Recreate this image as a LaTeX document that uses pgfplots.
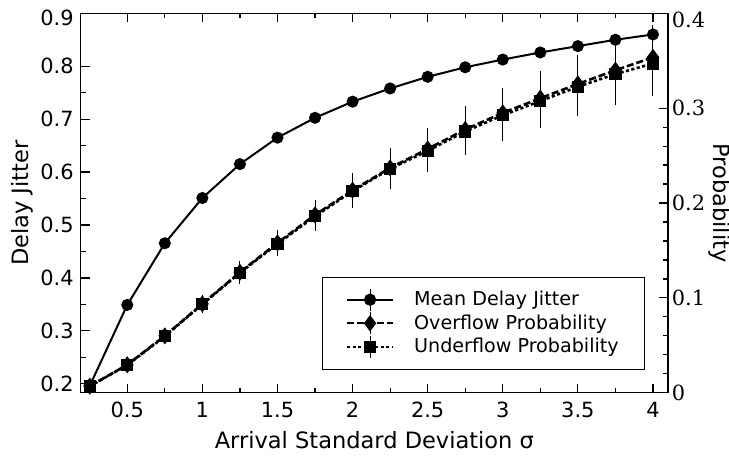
\documentclass[border=0pt]{standalone}
\usepackage{fontspec}
\setmainfont{DejaVu Sans}
\newfontfamily\dvserif{DejaVu Serif}
\usepackage{pgfplots}
\pgfplotsset{compat=1.18}
\begin{document}
\begin{tikzpicture}
\pgfplotsset{
  every axis/.append style={
    width=293.6bp,height=189.7bp,scale only axis,
    xmin=0.19,xmax=4.1,
    tick align=inside,
    major tick length=4.5bp,minor tick length=2.5bp,
    axis line style={line width=0.6bp},
    every tick/.style={black,line width=0.6bp},
    /pgf/number format/assume math mode=true,
    tick label style={font=\fontsize{10.5}{12}\selectfont},
  },
}
\begin{axis}[
  name=ax,
  ymin=0.183,ymax=0.9,
  xtick={0.5,1,...,4},minor x tick num=1,
  ytick={0.2,0.3,...,0.8},minor y tick num=1,
  extra y ticks={0.9},
  extra y tick style={yticklabel style={yshift=-2.5bp}},
  ytick pos=left,
  yticklabel style={/pgf/number format/fixed,/pgf/number format/precision=1},
  xticklabel style={/pgf/number format/fixed,yshift=-1.3bp},
  xlabel={Arrival Standard Deviation σ},
  ylabel={Delay Jitter},
  every axis x label/.style={at={([yshift=-28bp]axis description cs:0.5,0)},anchor=base,
    font=\fontsize{11.3}{13}\selectfont},
  every axis y label/.style={at={([xshift=-26.2bp]axis description cs:0,0.5)},rotate=90,anchor=base,
    font=\fontsize{11.3}{13}\selectfont},
]
\addplot[black,line width=1bp,mark=*,mark size=2.5bp] coordinates {
(0.25,0.196) (0.5,0.349) (0.75,0.4655) (1.0,0.551) (1.25,0.615) (1.5,0.665)
(1.75,0.7025) (2.0,0.733) (2.25,0.758) (2.5,0.780) (2.75,0.798) (3.0,0.8126)
(3.25,0.826) (3.5,0.838) (3.75,0.850) (4.0,0.860)};
\end{axis}
\begin{axis}[
  ymin=0,ymax=0.4,
  axis x line=none,
  axis y line*=right,
  ytick={0,0.1,...,0.3},minor y tick num=4,
  extra y ticks={0.4},
  extra y tick style={yticklabel style={yshift=-3.4bp}},
  ytick pos=right,
  yticklabel style={font=\dvserif\fontsize{10.5}{12}\selectfont,/pgf/number format/fixed,xshift=-1.6bp},
  ylabel={Probability},
  every axis y label/.style={at={([xshift=22.6bp]axis description cs:1,0.5)},rotate=-90,anchor=base,
    font=\fontsize{11.3}{13}\selectfont},
  legend cell align=left,
  legend style={at={(0.961,0.06)},anchor=south east,draw=black,
    font=\fontsize{9.6}{11}\selectfont,row sep=0.3bp,column sep=9bp,
    nodes={inner sep=1bp},inner xsep=12bp,inner ysep=5.6bp},
  legend image code/.code={
    \draw[solid,line width=0.5bp] (11.5bp,-5.5bp) -- (11.5bp,5.5bp);
    \draw[mark repeat=2,mark phase=2,#1,line width=1.1bp] plot coordinates {(0bp,0bp) (11.5bp,0bp) (23bp,0bp)};
  },
]
\addlegendimage{black,line width=1bp,mark=*,mark size=2.5bp}
\addlegendentry{Mean Delay Jitter}
\addplot[black,line width=1.3bp,dash pattern=on 3.5bp off 1.5bp,mark=diamond*,mark size=3.2bp,mark options={solid},
  error bars/.cd,y dir=both,y explicit,error mark=none,error bar style={solid,line width=0.5bp}]
coordinates {
(0.25,0.007) +- (0,0.001) (0.5,0.0295) +- (0,0.003) (0.75,0.060) +- (0,0.006)
(1.0,0.0937) +- (0,0.0093) (1.25,0.127) +- (0,0.0118) (1.5,0.158) +- (0,0.0133)
(1.75,0.1875) +- (0,0.016) (2.0,0.2135) +- (0,0.018) (2.25,0.237) +- (0,0.0207)
(2.5,0.257) +- (0,0.0225) (2.75,0.2775) +- (0,0.025) (3.0,0.295) +- (0,0.0267)
(3.25,0.3105) +- (0,0.0286) (3.5,0.3255) +- (0,0.0304) (3.75,0.340) +- (0,0.033)
(4.0,0.3535) +- (0,0.034)};
\addlegendentry{Overflow Probability}
\addplot[black,line width=1.3bp,dash pattern=on 1.6bp off 1.2bp,mark=square*,mark size=2.4bp,mark options={solid},
  error bars/.cd,y dir=both,y explicit,error mark=none,error bar style={solid,line width=0.5bp}]
coordinates {
(0.25,0.0068) +- (0,0.001) (0.5,0.0292) +- (0,0.003) (0.75,0.0595) +- (0,0.006)
(1.0,0.0932) +- (0,0.0093) (1.25,0.1265) +- (0,0.0118) (1.5,0.157) +- (0,0.0133)
(1.75,0.186) +- (0,0.016) (2.0,0.2125) +- (0,0.018) (2.25,0.236) +- (0,0.0207)
(2.5,0.255) +- (0,0.0225) (2.75,0.2755) +- (0,0.025) (3.0,0.2925) +- (0,0.0267)
(3.25,0.3075) +- (0,0.0286) (3.5,0.3225) +- (0,0.0304) (3.75,0.336) +- (0,0.033)
(4.0,0.347) +- (0,0.034)};
\addlegendentry{Underflow Probability}
\end{axis}
\pgfresetboundingbox
\path[use as bounding box] ([xshift=-40.35bp,yshift=-31.15bp]ax.south west) rectangle ([xshift=30.5bp,yshift=6.65bp]ax.north east);
\end{tikzpicture}
\end{document}
